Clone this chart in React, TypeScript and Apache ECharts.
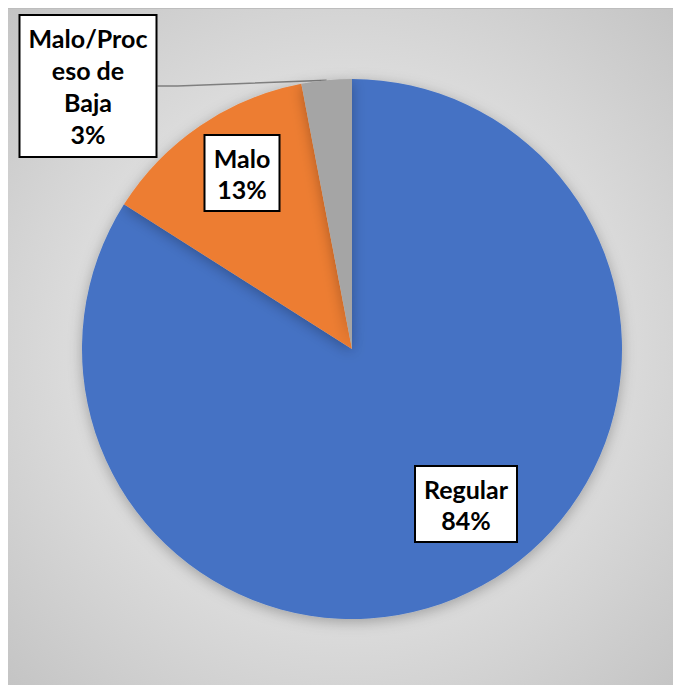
import React, { useEffect, useRef } from "react";
import * as echarts from "echarts";

const categories = ["Regular", "Malo", "Malo/Proceso de Baja"];
const values = [84, 13, 3];
const labelNames = ["Regular", "Malo", "Malo/Proc\neso de\nBaja"];
const colors = ["#4472C4", "#ED7D31", "#A5A5A5"];

// label box centres (layout) and sizes
const labelCenters: [number, number][] = [
  [458, 495],
  [234, 164],
  [80, 77],
];
const labelWidths = [82, 55, 117];
const labelLineHeights = [31, 31, 32];

export default function App() {
  const ref = useRef<HTMLDivElement>(null);
  useEffect(() => {
    if (!ref.current) return;
    const chart = echarts.init(ref.current, undefined, { renderer: "svg" });
    const data = categories.map((name, i) => ({
      name,
      value: values[i],
      itemStyle: { color: colors[i] },
      label: {
        position: i === 2 ? "outside" : "inside",
        width: labelWidths[i],
        lineHeight: labelLineHeights[i],
      },
      labelLine: { show: i === 2 },
    }));
    chart.setOption({
      animation: false,
      series: [
        {
          type: "pie",
          center: [344, 340],
          radius: [0, 270],
          startAngle: 90,
          clockwise: true,
          data,
          itemStyle: {
            borderWidth: 0,
            shadowBlur: 14,
            shadowOffsetY: 3,
            shadowColor: "rgba(0,0,0,0.28)",
          },
          label: {
            show: true,
            formatter: (p: any) =>
              labelNames[p.dataIndex] + "\n" + Math.round(p.percent) + "%",
            fontFamily: "Lato",
            fontWeight: "bold",
            fontSize: 25,
            lineHeight: 31,
            color: "#000",
            align: "center",
            overflow: "none",
            backgroundColor: "#fff",
            borderColor: "#000",
            borderWidth: 2,
            padding: [6, 9],
          },
          labelLine: {
            lineStyle: { color: "#7f7f7f", width: 1.5 },
            length: 20,
            length2: 20,
          },
          labelLayout: (params: any) => {
            const c = labelCenters[params.dataIndex];
            return {
              x: c[0],
              y: c[1],
              align: "center",
              verticalAlign: "middle",
            };
          },
        },
      ],
    });
    return () => chart.dispose();
  }, []);
  return (
    <div
      ref={ref}
      style={{
        width: 673,
        height: 678,
        background:
          "radial-gradient(ellipse at 50% 50%, #ececec 0%, #e2e2e2 45%, #c4c4c4 100%)",
        boxSizing: "border-box",
        borderTop: "1px solid #bdbdbd",
      }}
    />
  );
}
